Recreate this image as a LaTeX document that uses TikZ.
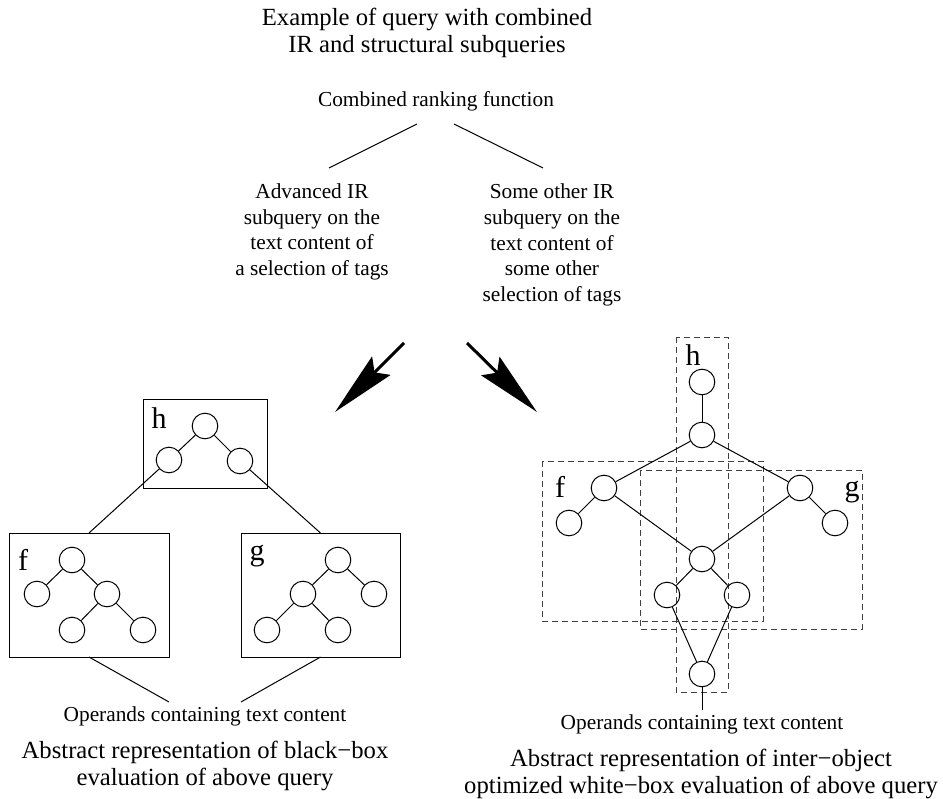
\documentclass[tikz,border=0pt]{standalone}
\usepackage{fontspec}
\setmainfont{Liberation Serif}
\usetikzlibrary{arrows.meta}

\tikzset{every picture/.style={line width=0.75pt}}
\tikzset{
  vtx/.style={draw, circle, minimum size=19.2pt, inner sep=0pt},
  opbox/.style={draw, rectangle, inner sep=0pt, outer sep=0pt},
  dbox/.style={draw=black!75, dash pattern=on 4.5pt off 3pt},
  lbl/.style={font=\fontsize{22.5}{24}\selectfont, inner sep=0pt},
  txt/.style={font=\fontsize{16}{19.3}\selectfont, align=center, inner sep=0pt},
  captxt/.style={font=\fontsize{18.5}{20.8}\selectfont, align=center, inner sep=0pt},
  bigarr/.style={line width=2.25pt, -{Stealth[length=49pt,width=19.5pt,inset=7pt]}}
}

\begin{document}
\begin{tikzpicture}[x=0.75pt,y=0.75pt,yscale=-1,xscale=1]
\useasboundingbox (0,0) rectangle (943,799);

% Text Node
\node[captxt] (title) at (427,33) {Example of query with combined\\IR and structural subqueries};
% Text Node
\node[txt] (crf) at (436,101) {Combined ranking function};
% Text Node
\node[txt] (adv) at (312,232) {Advanced IR\\subquery on the\\text content of\\a selection of tags};
% Text Node
\node[txt] (oth) at (552,245) {Some other IR\\subquery on the\\text content of\\some other\\selection of tags};

%Straight Lines
\coordinate (crfL) at (417,124);
\coordinate (crfR) at (454,124);
\coordinate (advT) at (329,168);
\coordinate (othT) at (543,168);
\draw (crfL) -- (advT);
\draw (crfR) -- (othT);

%Arrows
\coordinate (aL0) at (404,343);
\coordinate (aL1) at (335,412);
\coordinate (aR0) at (467,343);
\coordinate (aR1) at (537,412);
\draw[bigarr] (aL0) -- (aL1);
\draw[bigarr] (aR0) -- (aR1);

%Shape: Rectangles (black-box)
\node[opbox, minimum width=93pt, minimum height=66.75pt] (hbox) at (205,443.5) {};
\node[opbox, minimum width=120pt, minimum height=93pt] (fbox) at (89,595) {};
\node[opbox, minimum width=119.25pt, minimum height=93pt] (gbox) at (320.5,595) {};
\node[lbl] (hlab) at (159,418) {h};
\node[lbl] (flab) at (23,560) {f};
\node[lbl] (glab) at (257,556) {g};

%Shape: Circle
\node[vtx] (hA) at (205,426) {};
\node[vtx] (hB) at (169,460) {};
\node[vtx] (hC) at (240,461) {};
\node[vtx] (fA) at (72,560) {};
\node[vtx] (fB) at (37,594) {};
\node[vtx] (fC) at (107,594) {};
\node[vtx] (fD) at (72,630) {};
\node[vtx] (fE) at (143,630) {};
\node[vtx] (gA) at (338,560) {};
\node[vtx] (gB) at (303,594) {};
\node[vtx] (gC) at (374,594) {};
\node[vtx] (gD) at (267,630) {};
\node[vtx] (gE) at (338,630) {};

%Straight Lines
\draw (hA) -- (hB);
\draw (hA) -- (hC);
\draw (hB) -- (fbox.north);
\draw (hC) -- (gbox.north);
\draw (fA) -- (fB);
\draw (fA) -- (fC);
\draw (fC) -- (fD);
\draw (fC) -- (fE);
\draw (gA) -- (gB);
\draw (gA) -- (gC);
\draw (gB) -- (gD);
\draw (gB) -- (gE);

% Text Node
\node[txt] (opsL) at (205,716) {Operands containing text content};
\coordinate (opsL1) at (169,702);
\coordinate (opsL2) at (241,702);
\draw (fbox.south) -- (opsL1);
\draw (gbox.south) -- (opsL2);

% Text Node
\node[captxt] (capL) at (205,766) {Abstract representation of black−box\\evaluation of above query};

%Shape: Dashed Rectangles (white-box)
\draw[dbox] (676,337) rectangle (728,692);
\draw[dbox] (542,461) rectangle (763,621);
\draw[dbox] (640,470) rectangle (862,629);
\node[lbl] (whlab) at (693,355) {h};
\node[lbl] (wflab) at (560,487) {f};
\node[lbl] (wglab) at (852,492) {g};

%Shape: Circle
\node[vtx] (w1) at (702,382) {};
\node[vtx] (w2) at (702,435) {};
\node[vtx] (w3) at (604,488) {};
\node[vtx] (w4) at (569,523) {};
\node[vtx] (w5) at (800,488) {};
\node[vtx] (w6) at (835,523) {};
\node[vtx] (w7) at (702,559) {};
\node[vtx] (w8) at (667,595) {};
\node[vtx] (w9) at (737,595) {};
\node[vtx] (w10) at (702,674) {};

%Straight Lines
\draw (w1) -- (w2);
\draw (w2) -- (w3);
\draw (w2) -- (w5);
\draw (w3) -- (w4);
\draw (w5) -- (w6);
\draw (w3) -- (w7);
\draw (w5) -- (w7);
\draw (w7) -- (w8);
\draw (w7) -- (w9);
\draw (w8) -- (w10);
\draw (w9) -- (w10);

% Text Node
\node[txt] (opsR) at (702,724) {Operands containing text content};
\coordinate (opsR1) at (702,710);
\draw (w10) -- (opsR1);

% Text Node
\node[captxt] (capR) at (701,774) {Abstract representation of inter−object\\optimized white−box evaluation of above query};

\end{tikzpicture}
\end{document}
